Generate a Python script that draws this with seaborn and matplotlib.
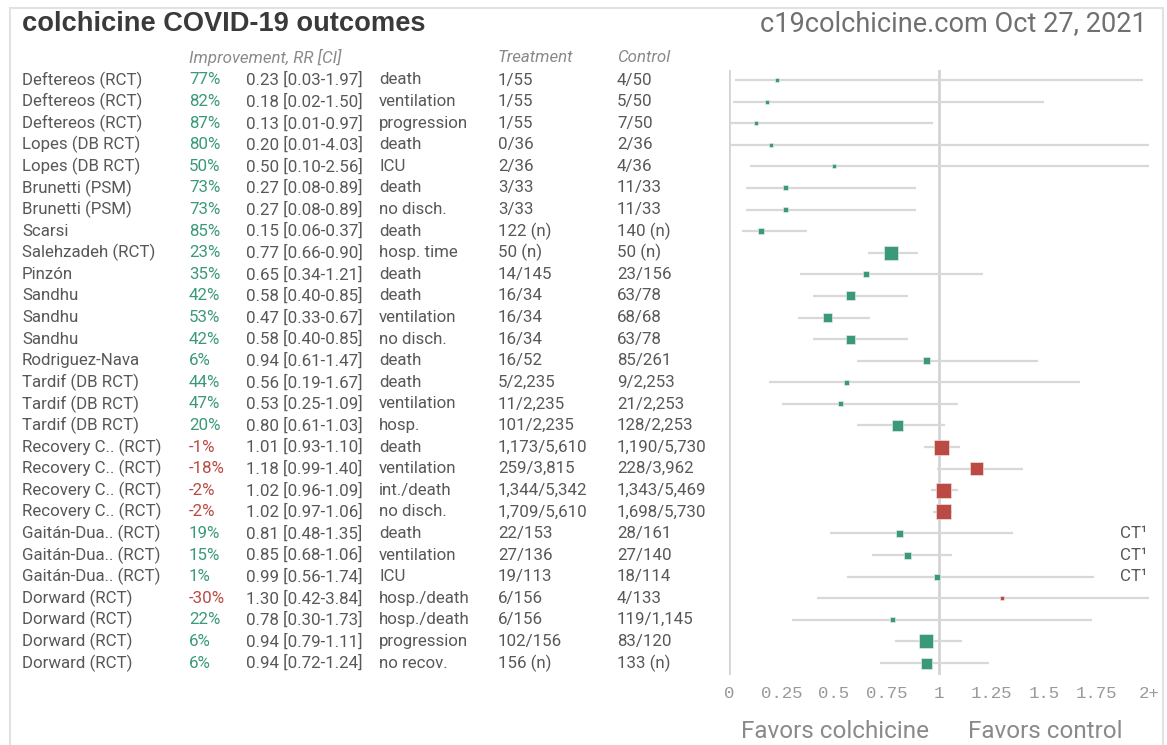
import matplotlib
matplotlib.use("Agg")
import matplotlib.pyplot as plt
import matplotlib.transforms as mtransforms
from matplotlib.lines import Line2D
import seaborn as sns
import pandas as pd
import numpy as np

studies = ["Deftereos (RCT)", "Deftereos (RCT)", "Deftereos (RCT)", "Lopes (DB RCT)", "Lopes (DB RCT)",
           "Brunetti (PSM)", "Brunetti (PSM)", "Scarsi", "Salehzadeh (RCT)", "Pinzón",
           "Sandhu", "Sandhu", "Sandhu", "Rodriguez-Nava", "Tardif (DB RCT)",
           "Tardif (DB RCT)", "Tardif (DB RCT)", "Recovery C.. (RCT)", "Recovery C.. (RCT)", "Recovery C.. (RCT)",
           "Recovery C.. (RCT)", "Gaitán-Dua.. (RCT)", "Gaitán-Dua.. (RCT)", "Gaitán-Dua.. (RCT)", "Dorward (RCT)",
           "Dorward (RCT)", "Dorward (RCT)", "Dorward (RCT)"]
improvement = ["77%", "82%", "87%", "80%", "50%", "73%", "73%", "85%", "23%", "35%",
               "42%", "53%", "42%", "6%", "44%", "47%", "20%", "-1%", "-18%", "-2%",
               "-2%", "19%", "15%", "1%", "-30%", "22%", "6%", "6%"]
rr = [0.23, 0.18, 0.13, 0.20, 0.50, 0.27, 0.27, 0.15, 0.77, 0.65,
      0.58, 0.47, 0.58, 0.94, 0.56, 0.53, 0.80, 1.01, 1.18, 1.02,
      1.02, 0.81, 0.85, 0.99, 1.30, 0.78, 0.94, 0.94]
ci_lo = [0.03, 0.02, 0.01, 0.01, 0.10, 0.08, 0.08, 0.06, 0.66, 0.34,
         0.40, 0.33, 0.40, 0.61, 0.19, 0.25, 0.61, 0.93, 0.99, 0.96,
         0.97, 0.48, 0.68, 0.56, 0.42, 0.30, 0.79, 0.72]
ci_hi = [1.97, 1.50, 0.97, 4.03, 2.56, 0.89, 0.89, 0.37, 0.90, 1.21,
         0.85, 0.67, 0.85, 1.47, 1.67, 1.09, 1.03, 1.10, 1.40, 1.09,
         1.06, 1.35, 1.06, 1.74, 3.84, 1.73, 1.11, 1.24]
outcomes = ["death", "ventilation", "progression", "death", "ICU", "death", "no disch.", "death", "hosp. time", "death",
            "death", "ventilation", "no disch.", "death", "death", "ventilation", "hosp.", "death", "ventilation", "int./death",
            "no disch.", "death", "ventilation", "ICU", "hosp./death", "hosp./death", "progression", "no recov."]
treatment = ["1/55", "1/55", "1/55", "0/36", "2/36", "3/33", "3/33", "122 (n)", "50 (n)", "14/145",
             "16/34", "16/34", "16/34", "16/52", "5/2,235", "11/2,235", "101/2,235", "1,173/5,610", "259/3,815", "1,344/5,342",
             "1,709/5,610", "22/153", "27/136", "19/113", "6/156", "6/156", "102/156", "156 (n)"]
control = ["4/50", "5/50", "7/50", "2/36", "4/36", "11/33", "11/33", "140 (n)", "50 (n)", "23/156",
           "63/78", "68/68", "63/78", "85/261", "9/2,253", "21/2,253", "128/2,253", "1,190/5,730", "228/3,962", "1,343/5,469",
           "1,698/5,730", "28/161", "27/140", "18/114", "4/133", "119/1,145", "83/120", "133 (n)"]
weight = [4, 4, 4, 4, 4, 5, 5, 6, 14, 6,
          9, 9, 9, 7, 5, 5, 11, 15, 13, 15,
          15, 7, 7, 6, 4, 5, 14, 11]
notes = [""] * 21 + ["CT¹", "CT¹", "CT¹"] + [""] * 4
tick_vals = [0, 0.25, 0.5, 0.75, 1, 1.25, 1.5, 1.75, 2]
tick_labels = ["0", "0.25", "0.5", "0.75", "1", "1.25", "1.5", "1.75", "2+"]

GREEN = "#3a9a78"
RED = "#bb4a44"
TXT = "#585858"

df = pd.DataFrame({"row": np.arange(len(studies)), "rr": rr, "lo": ci_lo,
                   "hi": np.minimum(ci_hi, 2.0), "w": weight})
df["fav"] = np.where(df["rr"] > 1, "control", "colchicine")
df["s"] = (df["w"] * 0.72) ** 2

sns.set_theme(style="white")
plt.rcParams["font.family"] = ["Roboto", "DejaVu Sans"]

W, H = 1167, 745
fig = plt.figure(figsize=(W / 100, H / 100), dpi=100)

def fx(px):
    return px / W

def fy(py):
    return 1 - py / H

top_px, bot_px = 70, 675
left_px, right_px = 729, 1149
ax = fig.add_axes([fx(left_px), fy(bot_px), fx(right_px - left_px), (bot_px - top_px) / H])
row0, dy = 80, (663 - 80) / 27
ax.set_xlim(0, 2)
ax.set_ylim(27 + (bot_px - 663) / dy, -(row0 - top_px) / dy)

ax.axvline(0, color="#d4d4d4", lw=2, zorder=1)
ax.axvline(1, color="#d4d4d4", lw=2, zorder=1)
ax.hlines(df["row"], df["lo"], df["hi"], color="#d8d8d8", lw=1.6, zorder=2, clip_on=False)
sns.scatterplot(data=df, x="rr", y="row", hue="fav", palette={"colchicine": GREEN, "control": RED},
                marker="s", s=df["s"], edgecolor="#f0f0f0", linewidth=0.4, legend=False,
                ax=ax, zorder=3, clip_on=False)

for sp in ax.spines.values():
    sp.set_visible(False)
ax.set_xticks(tick_vals)
ax.set_xticklabels(tick_labels, fontfamily="Liberation Mono", fontsize=12.5, color="#999999")
ax.tick_params(axis="x", length=0, pad=8)
ax.set_yticks([])
ax.set_xlabel("")
ax.set_ylabel("")

tr = mtransforms.blended_transform_factory(fig.transFigure, ax.transData)
fs = 12.2
for i in range(len(studies)):
    ax.text(fx(22), i, studies[i], transform=tr, fontsize=fs, color=TXT, va="center", ha="left")
    col = RED if improvement[i].startswith("-") else GREEN
    ax.text(fx(189), i, improvement[i], transform=tr, fontsize=fs, color=col, va="center", ha="left")
    ax.text(fx(246), i, f"{rr[i]:.2f} [{ci_lo[i]:.2f}-{ci_hi[i]:.2f}]", transform=tr, fontsize=fs,
            color=TXT, va="center", ha="left")
    ax.text(fx(379), i, outcomes[i], transform=tr, fontsize=fs, color=TXT, va="center", ha="left")
    ax.text(fx(498), i, treatment[i], transform=tr, fontsize=fs, color=TXT, va="center", ha="left")
    ax.text(fx(617), i, control[i], transform=tr, fontsize=fs, color=TXT, va="center", ha="left")
    if notes[i]:
        ax.text(fx(1147), i, notes[i], transform=tr, fontsize=fs, color=TXT, va="center", ha="right")

hdr_y = -(row0 - 57) / dy
for xp, lab in [(189, "Improvement, RR [CI]"), (498, "Treatment"), (617, "Control")]:
    ax.text(fx(xp), hdr_y, lab, transform=tr, fontsize=fs, color="#8a8a8a",
            style="italic", va="center", ha="left")

fig.text(fx(22), fy(24), "colchicine COVID-19 outcomes", fontsize=19.6, fontweight="bold",
         color="#3a3a3a", family=["Liberation Sans", "DejaVu Sans"], va="center", ha="left")
fig.text(fx(1147), fy(24), "c19colchicine.com Oct 27, 2021", fontsize=19.5, color="#707070",
         va="center", ha="right")
fig.text(fx(835), fy(732), "Favors colchicine", fontsize=17.5, color="#8a8a8a", va="center", ha="center")
fig.text(fx(1045), fy(732), "Favors control", fontsize=17.5, color="#8a8a8a", va="center", ha="center")

bc = "#e2e2e2"
fig.add_artist(Line2D([fx(10), fx(10)], [fy(8), 0], color=bc, lw=1.5))
fig.add_artist(Line2D([fx(10), fx(1163)], [fy(8), fy(8)], color=bc, lw=1.5))
fig.add_artist(Line2D([fx(1163), fx(1163)], [fy(8), 0], color=bc, lw=1.5))

fig.savefig("out.png", dpi=100)
